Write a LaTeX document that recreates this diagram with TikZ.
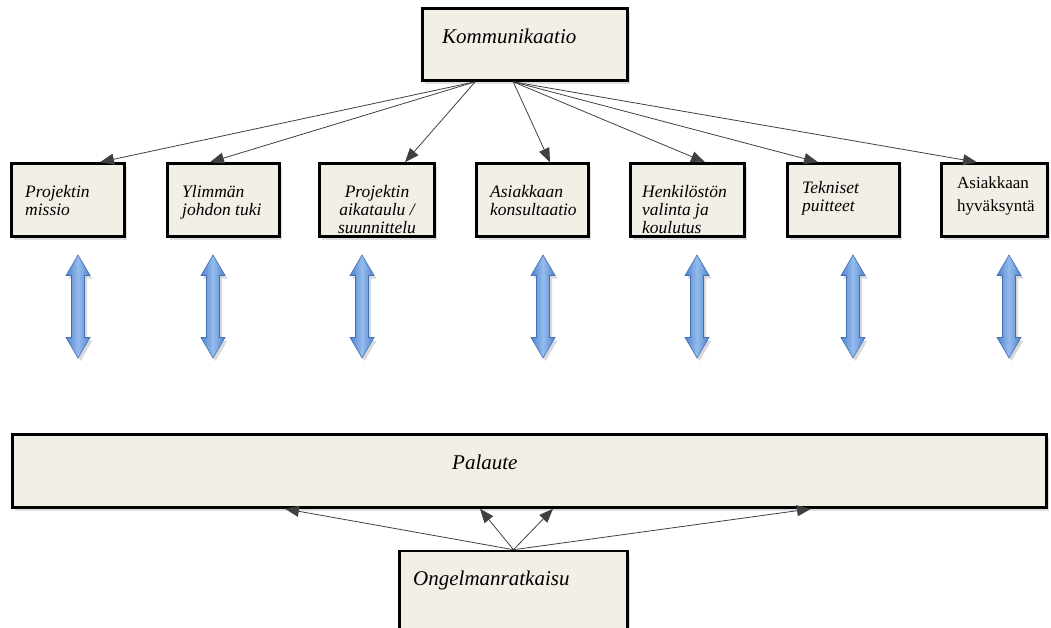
\documentclass[tikz,border=0pt]{standalone}
\usepackage{fontspec}
\setmainfont{Liberation Serif}
\usetikzlibrary{arrows.meta,shadows,calc}

\definecolor{boxfill}{RGB}{242,239,231}
\definecolor{arrowmid}{RGB}{150,188,238}
\definecolor{arrowside}{RGB}{78,130,205}
\definecolor{arrowedge}{RGB}{66,112,182}

\tikzset{
  box/.style={draw=black, line width=2.6pt, fill=boxfill, inner sep=0pt,
    drop shadow={shadow xshift=2.5pt, shadow yshift=-3.5pt, opacity=0.25}},
  lbl/.style={inner sep=0pt, font=\fontsize{17.5}{18}\selectfont\itshape,
    align=left, anchor=north west},
  lblc/.style={lbl, align=center, anchor=north},
  lblr/.style={inner sep=0pt, font=\fontsize{17}{23}\selectfont,
    align=left, anchor=north west},
  big/.style={inner sep=0pt, font=\fontsize{21}{24}\selectfont\itshape, anchor=base west},
  conn/.style={draw=black!75, line width=0.8pt, -{Triangle[length=14pt,width=11pt]}},
  dblarrow/.pic={
    \begin{scope}[shift={(2.5,3)}]
      \fill[black, opacity=0.15]
        (0,-51.5) -- (12,-31) -- (6.5,-31) -- (6.5,31) -- (12,31) -- (0,51.5)
        -- (-12,31) -- (-6.5,31) -- (-6.5,-31) -- (-12,-31) -- cycle;
    \end{scope}
    \path[draw=arrowedge, line width=0.6pt, left color=arrowside, right color=arrowside,
          middle color=arrowmid]
      (0,-51.5) -- (12,-31) -- (6.5,-31) -- (6.5,31) -- (12,31) -- (0,51.5)
      -- (-12,31) -- (-6.5,31) -- (-6.5,-31) -- (-12,-31) -- cycle;
  }
}

\begin{document}
\begin{tikzpicture}[x=1pt,y=-1pt]
\useasboundingbox (0,0) rectangle (1051,627);

% top box
\node[box, minimum width=205pt, minimum height=72pt] (komm) at (525,44.5) {};
\node[big] (kommtxt) at (442,43) {Kommunikaatio};

% row of success factors
\node[box, minimum width=113pt, minimum height=73pt] (b1) at (68,200) {};
\node[box, minimum width=112pt, minimum height=73pt] (b2) at (223.5,200) {};
\node[box, minimum width=115pt, minimum height=73pt] (b3) at (377,200) {};
\node[box, minimum width=112pt, minimum height=73pt] (b4) at (532.5,200) {};
\node[box, minimum width=114pt, minimum height=73pt] (b5) at (687.5,200) {};
\node[box, minimum width=112pt, minimum height=73pt] (b6) at (843.5,200) {};
\node[box, minimum width=106pt, minimum height=73pt] (b7) at (994.5,200) {};

\node[lbl] (t1) at (25,185) {Projektin\\missio};
\node[lbl] (t2) at (182,185) {Ylimmän\\johdon tuki};
\node[lblc] (t3) at (377,185) {Projektin\\aikataulu /\\suunnittelu};
\node[lbl] (t4) at (490,185) {Asiakkaan\\konsultaatio};
\node[lbl] (t5) at (642,185) {Henkilöstön\\valinta ja\\koulutus};
\node[lbl] (t6) at (802,181) {Tekniset\\puitteet};
\node[lblr] (t7) at (957,176) {Asiakkaan\\hyväksyntä};

% feedback bar and problem solving
\node[box, minimum width=1034pt, minimum height=73pt] (pal) at (529.5,471) {};
\node[big] (paltxt) at (452,469) {Palaute};
\node[box, minimum width=228pt, minimum height=80pt] (ong) at (513.5,591) {};
\node[big] (ongtxt) at (413,585) {Ongelmanratkaisu};

% connectors from the top box
\coordinate (kl) at ([xshift=54pt]komm.south west);
\coordinate (kr) at ([xshift=92pt]komm.south west);
\draw[conn] (kl) -- ([xshift=32pt]b1.north);
\draw[conn] (kl) -- ([xshift=-13.5pt]b2.north);
\draw[conn] (kl) -- ([xshift=28pt]b3.north);
\draw[conn] (kr) -- ([xshift=17.5pt]b4.north);
\draw[conn] (kr) -- ([xshift=17.5pt]b5.north);
\draw[conn] (kr) -- ([xshift=-25.5pt]b6.north);
\draw[conn] (kr) -- ([xshift=-17.5pt]b7.north);

% two-way arrows
\foreach \xx in {78,213,362,543,697,853,1009}
  \pic at (\xx,306.5) {dblarrow};

% connectors from problem solving to feedback
\coordinate (ot) at (ong.north);
\draw[conn] (ot) -- ([xshift=-244.5pt]pal.south);
\draw[conn] (ot) -- ([xshift=-49.5pt]pal.south);
\draw[conn] (ot) -- ([xshift=23.5pt]pal.south);
\draw[conn] (ot) -- ([xshift=281.5pt]pal.south);
\end{tikzpicture}
\end{document}
